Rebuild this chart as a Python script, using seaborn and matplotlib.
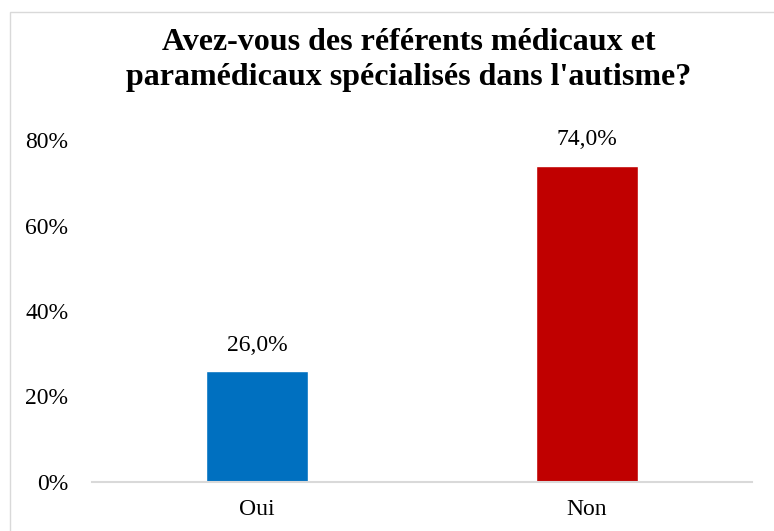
import matplotlib
matplotlib.use("Agg")
import matplotlib.pyplot as plt
from matplotlib.patches import Rectangle
import seaborn as sns
import pandas as pd

# Data
categories = ["Oui", "Non"]
values = [0.26, 0.74]
colors = ["#0070C0", "#C00000"]
title = "Avez-vous des référents médicaux et\nparamédicaux spécialisés dans l'autisme?"

sns.set_style("white")
plt.rcParams["font.family"] = ["Liberation Serif", "DejaVu Serif"]
plt.rcParams["text.color"] = "black"
plt.rcParams["xtick.color"] = "black"
plt.rcParams["ytick.color"] = "black"

df = pd.DataFrame({"cat": categories, "val": values})

fig = plt.figure(figsize=(7.74, 5.31), dpi=100)
ax = fig.add_axes([92 / 774, 1 - 482 / 531, (752 - 92) / 774, (482 - 140) / 531])

sns.barplot(data=df, x="cat", y="val", hue="cat", palette=colors,
            width=0.31, legend=False, ax=ax, saturation=1)

# Value labels
for i, v in enumerate(values):
    ax.annotate(f"{v * 100:.1f}%".replace(".", ","), (i, v),
                xytext=(0, 11), textcoords="offset points",
                ha="center", va="bottom", fontsize=17, color="black")

ax.set_ylim(0, 0.8)
ax.set_xlim(-0.5, 1.5)
ax.set_yticks([0, 0.2, 0.4, 0.6, 0.8])
ax.set_yticklabels(["0%", "20%", "40%", "60%", "80%"])
ax.set_xlabel("")
ax.set_ylabel("")
ax.tick_params(axis="y", length=0, pad=17, labelsize=17)
ax.tick_params(axis="x", length=0, pad=12, labelsize=17)

for s in ["left", "right", "top"]:
    ax.spines[s].set_visible(False)
ax.spines["bottom"].set_color("#D9D9D9")
ax.spines["bottom"].set_linewidth(1.5)

fig.text(409 / 774, 1 - 60 / 531, title, ha="center", va="center",
         fontsize=23, fontweight="bold", linespacing=1.3)

# Chart border
fig.patches.append(Rectangle((10 / 774, -0.1), 1.2, 1 - 12 / 531 + 0.1,
                             transform=fig.transFigure, fill=False,
                             edgecolor="#D9D9D9", linewidth=1))

fig.savefig("out.png", dpi=100)
